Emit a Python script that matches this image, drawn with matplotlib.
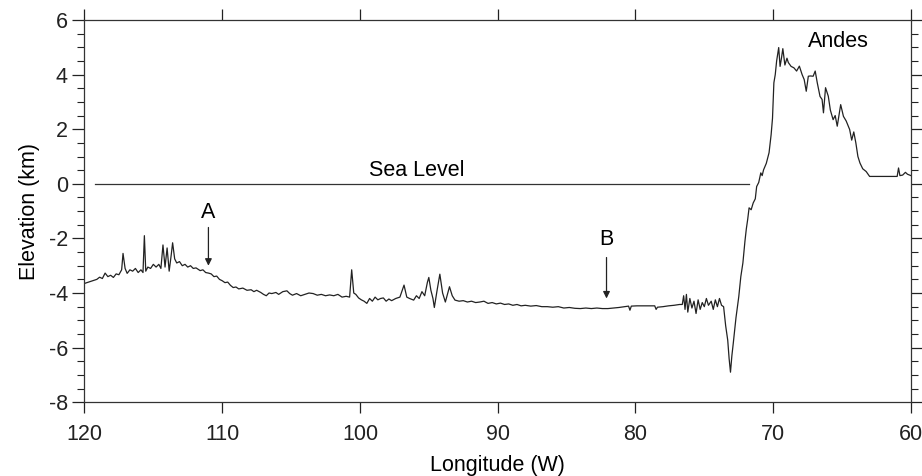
import numpy as np
import matplotlib
matplotlib.use("Agg")
import matplotlib.pyplot as plt
from matplotlib.ticker import MultipleLocator

plt.rcParams['font.family'] = ['Liberation Sans', 'DejaVu Sans']
plt.rcParams['axes.unicode_minus'] = False

# profile (longitude W, elevation km)
lon = [120.0, 119.7, 119.4, 119.1, 118.9, 118.7, 118.5, 118.3, 118.1, 117.9,
       117.7, 117.5, 117.3, 117.2, 117.05, 116.9, 116.7, 116.5, 116.3, 116.1,
       115.9, 115.75, 115.65, 115.55, 115.4, 115.2, 115.0, 114.8, 114.6, 114.45,
       114.3, 114.15, 114.0, 113.85, 113.7, 113.6, 113.45, 113.3, 113.1, 112.9,
       112.7, 112.5, 112.3, 112.1, 111.9, 111.6, 111.4, 111.2, 111.0, 110.8,
       110.6, 110.4, 110.2, 110.0, 109.8, 109.6, 109.4, 109.2, 109.0, 108.8,
       108.5, 108.2, 107.9, 107.7, 107.5, 107.2, 107.0, 106.8, 106.6, 106.4,
       106.1, 105.9, 105.6, 105.3, 105.1, 104.9, 104.6, 104.3, 104.0, 103.7,
       103.4, 103.1, 102.8, 102.5, 102.2, 101.9, 101.6, 101.3, 101.0, 100.75,
       100.6, 100.45, 100.3, 100.1, 99.9, 99.7, 99.5, 99.3, 99.1, 98.9,
       98.7, 98.5, 98.3, 98.1, 97.9, 97.7, 97.4, 97.1, 96.8, 96.6,
       96.4, 96.1, 95.9, 95.7, 95.5, 95.3, 95.1, 95.0, 94.85, 94.7,
       94.6, 94.4, 94.2, 94.0, 93.8, 93.5, 93.3, 93.1, 92.8, 92.5,
       92.2, 91.9, 91.6, 91.3, 91.0, 90.7, 90.4, 90.1, 89.8, 89.5,
       89.2, 88.9, 88.6, 88.3, 88.0, 87.6, 87.2, 86.8, 86.4, 86.0,
       85.6, 85.2, 84.8, 84.4, 84.0, 83.6, 83.2, 82.8, 82.4, 82.0,
       81.6, 81.2, 80.8, 80.5, 80.4, 80.3, 79.9, 79.5, 79.1, 78.6,
       78.5, 78.4, 78.0, 77.6, 77.2, 76.8, 76.6, 76.5, 76.4, 76.3,
       76.2, 76.05, 75.9, 75.75, 75.6, 75.45, 75.3, 75.15, 75.0, 74.85,
       74.7, 74.5, 74.35, 74.2, 74.05, 73.9, 73.75, 73.6, 73.45, 73.3,
       73.2, 73.1, 73.0, 72.9, 72.7, 72.5, 72.35, 72.2, 72.05, 71.95,
       71.85, 71.75, 71.6, 71.45, 71.3, 71.2, 71.05, 70.9, 70.8, 70.7,
       70.5, 70.3, 70.15, 70.05, 69.95, 69.85, 69.75, 69.6, 69.5, 69.4,
       69.3, 69.15, 69.0, 68.9, 68.7, 68.5, 68.3, 68.1, 67.9, 67.75,
       67.6, 67.45, 67.3, 67.1, 66.95, 66.8, 66.6, 66.45, 66.35, 66.2,
       66.0, 65.85, 65.65, 65.5, 65.35, 65.1, 64.9, 64.7, 64.45, 64.3,
       64.15, 64.0, 63.85, 63.7, 63.5, 63.25, 63.0, 62.5, 62.0, 61.5,
       61.0, 60.9, 60.8, 60.6, 60.4, 60.25, 60.0]
elev = [-3.65, -3.6, -3.55, -3.5, -3.42, -3.47, -3.27, -3.4, -3.35, -3.43,
        -3.3, -3.33, -3.15, -2.55, -3.1, -3.28, -3.15, -3.2, -3.1, -3.25,
        -3.15, -3.25, -1.9, -3.2, -3.05, -3.1, -2.95, -3.05, -2.95, -3.1,
        -2.24, -3.05, -2.35, -3.2, -2.6, -2.16, -2.75, -2.9, -2.85, -3.0,
        -2.95, -3.05, -3.0, -3.1, -3.08, -3.18, -3.15, -3.25, -3.27, -3.3,
        -3.4, -3.38, -3.5, -3.55, -3.62, -3.6, -3.72, -3.8, -3.78, -3.85,
        -3.82, -3.9, -3.88, -3.95, -3.9, -3.98, -4.05, -4.1, -4.0, -4.02,
        -3.98, -4.05, -3.95, -3.92, -4.02, -4.08, -4.02, -4.1, -4.05, -4.0,
        -4.02, -4.08, -4.05, -4.1, -4.07, -4.1, -4.05, -4.15, -4.12, -4.15,
        -3.15, -4.0, -4.05, -4.18, -4.25, -4.3, -4.38, -4.2, -4.3, -4.15,
        -4.25, -4.2, -4.18, -4.3, -4.22, -4.28, -4.2, -4.15, -3.71, -4.15,
        -4.2, -4.26, -4.1, -4.2, -3.95, -4.1, -3.6, -3.43, -3.9, -4.2,
        -4.53, -3.9, -3.31, -4.0, -4.33, -3.77, -4.1, -4.26, -4.3, -4.28,
        -4.33, -4.3, -4.35, -4.33, -4.3, -4.38, -4.35, -4.4, -4.37, -4.42,
        -4.4, -4.45, -4.42, -4.47, -4.45, -4.48, -4.46, -4.5, -4.5, -4.52,
        -4.5, -4.55, -4.53, -4.56, -4.57, -4.55, -4.57, -4.55, -4.57, -4.57,
        -4.55, -4.53, -4.5, -4.48, -4.63, -4.48, -4.47, -4.47, -4.47, -4.47,
        -4.6, -4.52, -4.5, -4.47, -4.45, -4.42, -4.42, -4.1, -4.6, -4.05,
        -4.7, -4.2, -4.55, -4.3, -4.75, -4.25, -4.6, -4.35, -4.5, -4.2,
        -4.45, -4.3, -4.6, -4.25, -4.5, -4.2, -4.45, -4.5, -5.2, -5.73,
        -6.4, -6.9, -6.3, -5.85, -4.9, -4.14, -3.4, -2.9, -2.1, -1.65,
        -1.3, -0.88, -0.95, -0.7, -0.55, -0.1, 0.05, 0.4, 0.3, 0.51,
        0.75, 1.14, 1.8, 2.4, 3.7, 4.0, 4.5, 4.99, 4.3, 4.6,
        4.95, 4.35, 4.6, 4.44, 4.3, 4.25, 4.13, 4.31, 4.0, 3.82,
        3.39, 3.94, 3.95, 3.94, 4.13, 3.7, 3.2, 3.09, 2.6, 3.52,
        3.21, 2.7, 2.35, 2.5, 2.11, 2.9, 2.47, 2.3, 1.99, 1.6,
        1.9, 1.5, 1.0, 0.76, 0.55, 0.45, 0.27, 0.27, 0.27, 0.27,
        0.27, 0.58, 0.3, 0.32, 0.42, 0.35, 0.3]

sea_lon = [119.2, 71.75]
sea_elev = [0, 0]

fig = plt.figure(figsize=(9.22, 4.76), dpi=100)
ax = fig.add_axes([0.0916, 0.155, 0.8964, 0.803])

ax.plot(lon, elev, color='#222222', lw=0.9)
ax.plot(sea_lon, sea_elev, color='#333333', lw=0.9)

ax.set_xlim(120, 60)
ax.set_ylim(-8, 6)
ax.xaxis.set_major_locator(MultipleLocator(10))
ax.yaxis.set_major_locator(MultipleLocator(2))
ax.yaxis.set_minor_locator(MultipleLocator(0.5))

fs = 15.5
ax.tick_params(which='both', direction='out', top=True, right=True, labelsize=fs, colors='#222222')
ax.tick_params(axis='y', which='major', length=9, width=0.9, pad=3)
ax.tick_params(axis='y', which='minor', length=5, width=0.8)
ax.tick_params(axis='x', which='major', length=8, width=0.9, pad=8)
for s in ax.spines.values():
    s.set_linewidth(0.9)
    s.set_color('#333333')

ax.set_xlabel('Longitude (W)', fontsize=fs, labelpad=7)
ax.set_ylabel('Elevation (km)', fontsize=fs, labelpad=6)

ax.text(95.9, 0.5, 'Sea Level', fontsize=fs, ha='center', va='center')
ax.text(65.3, 5.2, 'Andes', fontsize=fs, ha='center', va='center')
ax.text(111.0, -1.05, 'A', fontsize=fs, ha='center', va='center')
ax.text(82.1, -2.05, 'B', fontsize=fs, ha='center', va='center')

arrow = dict(arrowstyle='-|>', color='#222222', lw=0.9, mutation_scale=10, shrinkA=0, shrinkB=0)
ax.annotate('', xy=(111.0, -3.0), xytext=(111.0, -1.6), arrowprops=arrow)
ax.annotate('', xy=(82.1, -4.2), xytext=(82.1, -2.7), arrowprops=arrow)

fig.savefig('out.png', dpi=100)
